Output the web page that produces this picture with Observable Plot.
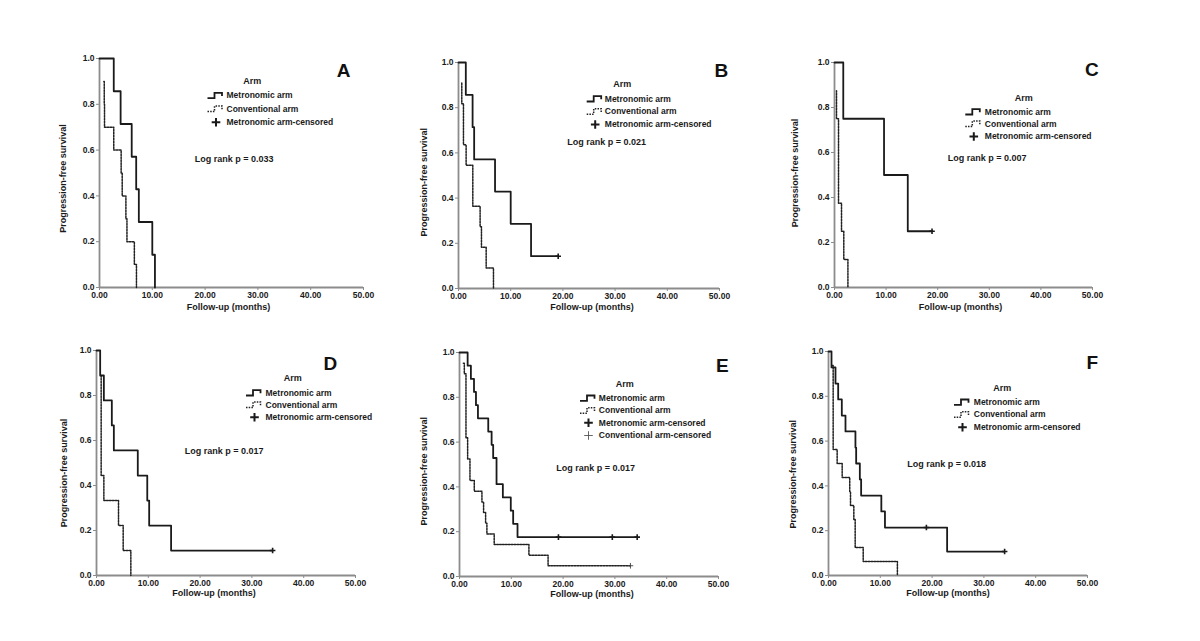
<!DOCTYPE html>
<html>
<head>
<meta charset="utf-8">
<script src="https://cdn.jsdelivr.net/npm/d3@7"></script>
<script src="https://cdn.jsdelivr.net/npm/@observablehq/plot@0.6"></script>
<style>
  body { margin: 0; background: #fff; }
  #chart { position: relative; width: 1200px; height: 641px; overflow: hidden; background: #fff; }
  #chart svg { position: absolute; overflow: visible; }
</style>
</head>
<body>
<div id="chart"></div>
<script>
// ---------- text ----------
const xTicks = [0, 10, 20, 30, 40, 50];
const yTicks = [0, 0.2, 0.4, 0.6, 0.8, 1.0];
const xLabel = "Follow-up (months)";
const yLabel = "Progression-free survival";
const legendTitle = "Arm";
const legendLabels3 = ["Metronomic arm", "Conventional arm", "Metronomic arm-censored"];
const legendLabels4 = ["Metronomic arm", "Conventional arm", "Metronomic arm-censored", "Conventional arm-censored"];
const panelLetters = ["A", "B", "C", "D", "E", "F"];
const logRankLabels = ["Log rank p = 0.033", "Log rank p = 0.021", "Log rank p = 0.007",
                       "Log rank p = 0.017", "Log rank p = 0.017", "Log rank p = 0.018"];

// ---------- data: step vertices (time in months, survival) ----------
// Panel A
const aMetT = [0, 2.7, 4.0, 6.1, 6.95, 7.45, 10.0, 10.5];
const aMetS = [1, 0.857, 0.714, 0.571, 0.429, 0.286, 0.143, 0];
const aConT = [0.82, 0.9, 0.95, 2.7, 4.1, 4.3, 5.0, 5.2, 6.6, 7.0];
const aConS = [0.9, 0.8, 0.7, 0.6, 0.5, 0.4, 0.3, 0.2, 0.1, 0];
const aMetCensT = [];
const aMetCensS = [];
// Panel B
const bMetT = [0, 1.4, 2.7, 3.0, 7.0, 10.0, 13.9, 19.1];
const bMetS = [1, 0.857, 0.714, 0.571, 0.429, 0.286, 0.143, 0.143];
const bConT = [0.63, 0.63, 0.95, 1.46, 2.74, 4.14, 4.4, 5.3, 6.7];
const bConS = [0.909, 0.818, 0.636, 0.545, 0.364, 0.273, 0.182, 0.091, 0];
const bMetCensT = [19.1];
const bMetCensS = [0.143];
// Panel C
const cMetT = [0, 1.7, 9.6, 14.2, 18.9];
const cMetS = [1, 0.75, 0.5, 0.25, 0.25];
const cConT = [0.39, 0.39, 0.78, 0.78, 0.78, 1.36, 1.8, 2.6];
const cConS = [0.875, 0.75, 0.625, 0.5, 0.375, 0.25, 0.125, 0];
const cMetCensT = [18.9];
const cMetCensS = [0.25];
// Panel D
const dMetT = [0, 0.71, 1.42, 2.96, 3.35, 7.97, 9.8, 10.17, 14.4, 34.0];
const dMetS = [1, 0.889, 0.778, 0.667, 0.556, 0.444, 0.333, 0.222, 0.111, 0.111];
const dConT = [0.9, 0.9, 1.42, 4.25, 5.15, 6.63];
const dConS = [0.889, 0.444, 0.333, 0.222, 0.111, 0];
const dMetCensT = [34.0];
const dMetCensS = [0.111];
// Panel E
const eMetT = [0, 1.57, 2.2, 2.8, 3.18, 3.56, 5.55, 6.2, 6.5, 7.15, 8.37, 9.9, 10.36, 11.2, 34.3];
const eMetS = [1, 0.941, 0.882, 0.824, 0.765, 0.706, 0.647, 0.588, 0.529, 0.412, 0.353, 0.294, 0.235, 0.176, 0.176];
const eConT = [0.74, 0.93, 1.25, 1.57, 2.02, 2.85, 4.33, 4.65, 5.04, 5.29, 6.7, 13.4, 17.1, 33.0];
const eConS = [0.952, 0.905, 0.619, 0.524, 0.429, 0.381, 0.333, 0.286, 0.238, 0.190, 0.143, 0.095, 0.048, 0.048];
const eMetCensT = [19.1, 29.5, 34.3];
const eMetCensS = [0.176, 0.176, 0.176];
const eConCensT = [33.0];
const eConCensS = [0.048];
// Panel F
const fMetT = [0, 0.58, 1.35, 1.87, 2.57, 3.28, 5.2, 5.34, 6.05, 6.3, 10.2, 10.9, 22.9, 34.0];
const fMetS = [1, 0.929, 0.857, 0.786, 0.714, 0.643, 0.571, 0.5, 0.429, 0.357, 0.286, 0.214, 0.107, 0.107];
const fConT = [0.71, 0.9, 1.67, 2.64, 4.1, 4.25, 4.89, 5.15, 6.7, 13.3];
const fConS = [0.9375, 0.5625, 0.5, 0.4375, 0.375, 0.3125, 0.25, 0.125, 0.0625, 0];
const fMetCensT = [18.9, 34.0];
const fMetCensS = [0.214, 0.107];

// ---------- layout (pixels) ----------
const ML = 50, MR = 30, MT = 10, MB = 32;
const layouts = [
  {fx: 99,  fy: 58,  fw: 264, fh: 229, letter: [-13, 5],    title: [152.7, 22.7], iconX: 116.5, textX: 127,   rows: [37, 50.3, 63.7],       log: [95.3, 100.3], yl: [-36, 5.5],  xl: [-3, 19.5]},
  {fx: 458, fy: 62,  fw: 261, fh: 226, letter: [8.7, 1],     title: [163.7, 21.3], iconX: 136.7, textX: 146.3, rows: [36.3, 49, 62],         log: [108.7, 79.7], yl: [-34.7, 6.7], xl: [3, 18.5]},
  {fx: 834, fy: 62,  fw: 258, fh: 225, letter: [6.3, -0.5],  title: [189.3, 35.7], iconX: 139.3, textX: 150.3, rows: [49.3, 61.3, 74],       log: [113.3, 95.7], yl: [-39.7, -2], xl: [-3, 19.5]},
  {fx: 96,  fy: 350, fw: 259, fh: 225, letter: [-18.3, 5.5], title: [196.3, 27.7], iconX: 158,   textX: 169,   rows: [42.3, 54.3, 66.7],     log: [88.3, 100.3], yl: [-32.7, 10], xl: [-12, 17.5]},
  {fx: 459, fy: 352, fw: 259, fh: 224, letter: [10.3, 6],    title: [165.3, 32],   iconX: 129,   textX: 139.3, rows: [45.7, 58, 70.3, 83],   log: [96.7, 115.3], yl: [-35.7, 6.7], xl: [3, 18]},
  {fx: 828, fy: 351, fw: 259, fh: 224, letter: [10.7, 4],    title: [173.7, 36.3], iconX: 134,   textX: 145.3, rows: [50.7, 63, 75.7],       log: [78.7, 113],   yl: [-35.7, 10.7], xl: [-10, 17.5]}
];

const panels = [
  {met: [aMetT, aMetS], con: [aConT, aConS], metCens: [aMetCensT, aMetCensS], conCens: null, legend: legendLabels3},
  {met: [bMetT, bMetS], con: [bConT, bConS], metCens: [bMetCensT, bMetCensS], conCens: null, legend: legendLabels3},
  {met: [cMetT, cMetS], con: [cConT, cConS], metCens: [cMetCensT, cMetCensS], conCens: null, legend: legendLabels3},
  {met: [dMetT, dMetS], con: [dConT, dConS], metCens: [dMetCensT, dMetCensS], conCens: null, legend: legendLabels3},
  {met: [eMetT, eMetS], con: [eConT, eConS], metCens: [eMetCensT, eMetCensS], conCens: [eConCensT, eConCensS], legend: legendLabels4},
  {met: [fMetT, fMetS], con: [fConT, fConS], metCens: [fMetCensT, fMetCensS], conCens: null, legend: legendLabels3}
];

// ---------- custom symbols ----------
const stepIcon = {draw(ctx) {
  ctx.moveTo(-8.5, 2.7); ctx.lineTo(-1.5, 2.7); ctx.lineTo(-1.5, -2.7);
  ctx.lineTo(6, -2.7); ctx.lineTo(6, 0.5);
}};
const plusSym = {draw(ctx, size) {
  const h = Math.sqrt(size / Math.PI);
  ctx.moveTo(-h, 0); ctx.lineTo(h, 0); ctx.moveTo(0, -h); ctx.lineTo(0, h);
}};

const ink = "#1a1a1a";
const axisGray = "#8c8c8c";
const toPts = (T, S) => T.map((t, i) => ({t, s: S[i]}));

const chart = document.getElementById("chart");

panels.forEach((p, k) => {
  const L = layouts[k];
  const marks = [
    Plot.ruleX([0], {stroke: axisGray, strokeWidth: 1.8}),
    Plot.ruleY([0], {stroke: axisGray, strokeWidth: 1.8}),
    Plot.axisX({ticks: xTicks, tickFormat: d3.format(".2f"), tickSize: 3, tickPadding: 1,
                stroke: axisGray, fill: ink, fontSize: 8.5, fontWeight: "bold", label: null}),
    Plot.axisY({ticks: yTicks, tickFormat: d3.format(".1f"), tickSize: 3, tickPadding: 2,
                stroke: axisGray, fill: ink, fontSize: 8.5, fontWeight: "bold", label: null}),
    Plot.line(toPts(...p.con), {x: "t", y: "s", curve: "step-after", stroke: "#222",
                strokeWidth: 1.5, strokeDasharray: "1.7,1.2"}),
    Plot.line(toPts(...p.met), {x: "t", y: "s", curve: "step-after", stroke: ink, strokeWidth: 1.8}),
    Plot.dot(toPts(...p.metCens), {x: "t", y: "s", symbol: plusSym, r: 2.8, stroke: ink, strokeWidth: 1.6, fill: "none"}),
    // axis titles
    Plot.text([xLabel], {text: d => d, frameAnchor: "bottom", dx: L.xl[0], dy: L.xl[1], lineAnchor: "middle",
                textAnchor: "middle", fontSize: 9, fontWeight: "bold", fill: ink}),
    Plot.text([yLabel], {text: d => d, frameAnchor: "left", rotate: -90, dx: L.yl[0], dy: L.yl[1],
                lineAnchor: "middle", textAnchor: "middle", fontSize: 9, fontWeight: "bold", fill: ink}),
    // panel letter
    Plot.text([panelLetters[k]], {text: d => d, frameAnchor: "top-right", dx: L.letter[0], dy: L.letter[1],
                textAnchor: "end", lineAnchor: "top", fontSize: 19, fontWeight: "bold", fill: "#111"}),
    // log rank
    Plot.text([logRankLabels[k]], {text: d => d, frameAnchor: "top-left", dx: L.log[0], dy: L.log[1],
                textAnchor: "start", lineAnchor: "middle", fontSize: 9, fontWeight: "bold", fill: ink}),
    // legend title
    Plot.text([legendTitle], {text: d => d, frameAnchor: "top-left", dx: L.title[0], dy: L.title[1],
                textAnchor: "middle", lineAnchor: "middle", fontSize: 9, fontWeight: "bold", fill: ink})
  ];
  if (p.conCens) {
    marks.push(Plot.dot(toPts(...p.conCens), {x: "t", y: "s", symbol: plusSym, r: 2.8, stroke: "#444",
                strokeWidth: 0.9, fill: "none"}));
  }
  // legend rows
  p.legend.forEach((lab, i) => {
    const dy = L.rows[i];
    marks.push(Plot.text([lab], {text: d => d, frameAnchor: "top-left", dx: L.textX, dy,
                textAnchor: "start", lineAnchor: "middle", fontSize: 8.5, fontWeight: "bold", fill: ink}));
    let icon;
    if (i === 0) icon = {symbol: stepIcon, stroke: ink, strokeWidth: 1.8};
    else if (i === 1) icon = {symbol: stepIcon, stroke: "#222", strokeWidth: 1.5, strokeDasharray: "1.5,1.2"};
    else if (i === 2) icon = {symbol: plusSym, r: 4.3, stroke: ink, strokeWidth: 2};
    else icon = {symbol: plusSym, r: 4.3, stroke: "#555", strokeWidth: 0.9};
    marks.push(Plot.dot([lab], {frameAnchor: "top-left", dx: L.iconX, dy, fill: "none", ...icon}));
  });

  const svg = Plot.plot({
    width: L.fw + ML + MR,
    height: L.fh + MT + MB,
    marginLeft: ML, marginRight: MR, marginTop: MT, marginBottom: MB,
    style: {fontFamily: "'Liberation Sans', Arial, sans-serif", fontSize: "8px", color: ink,
            background: "transparent", overflow: "visible"},
    x: {domain: [0, 50]},
    y: {domain: [0, 1]},
    marks
  });
  svg.style.left = (L.fx - ML) + "px";
  svg.style.top = (L.fy - MT) + "px";
  chart.appendChild(svg);
});
</script>
</body>
</html>
